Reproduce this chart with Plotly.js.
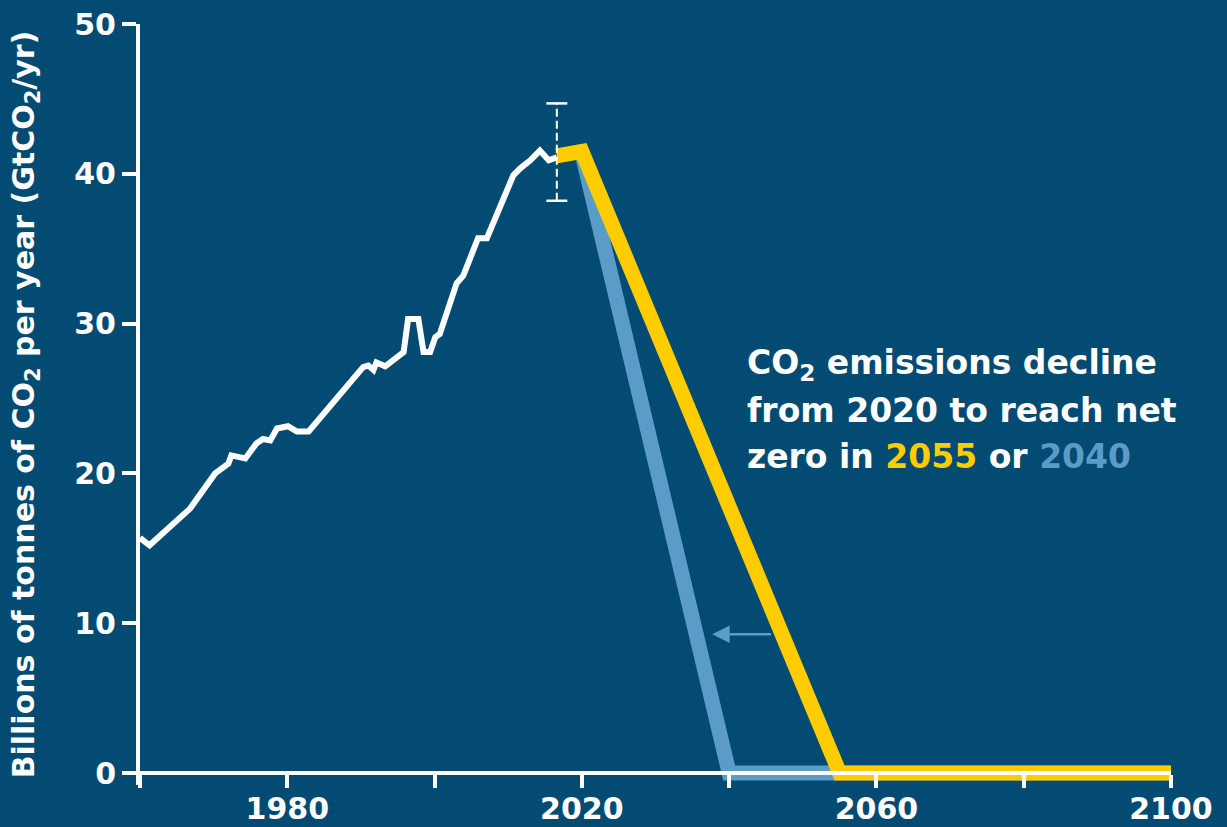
<!DOCTYPE html>
<html>
<head>
<meta charset="utf-8">
<script src="https://cdn.plot.ly/plotly-3.0.1.min.js"></script>
<style>
html,body{margin:0;padding:0;background:#034b72;}
#chart{width:1227px;height:827px;}
</style>
</head>
<body>
<div id="chart"></div>
<script>
// Historical global CO2 emissions (GtCO2/yr), vertices
const histYears = [1960, 1961.3, 1966.8, 1970.2, 1972.0, 1972.4, 1974.3, 1975.8, 1976.7, 1977.7, 1978.6, 1980.1, 1981.3, 1982.9,
  1990.3, 1991.0, 1991.7, 1992.1, 1993.3, 1995.8, 1996.4, 1997.8, 1998.5, 1999.4, 2000.1, 2000.7, 2003.0, 2003.9,
  2005.9, 2007.1, 2010.7, 2011.6, 2013.0, 2014.3, 2015.5, 2016.6];
const histValues = [15.7, 15.2, 17.65, 20.0, 20.65, 21.2, 21.0, 22.0, 22.3, 22.2, 23.0, 23.15, 22.8, 22.8,
  27.1, 27.2, 26.9, 27.4, 27.15, 28.1, 30.3, 30.3, 28.1, 28.1, 29.1, 29.3, 32.7, 33.2,
  35.7, 35.7, 39.9, 40.35, 40.9, 41.55, 40.9, 41.1];

// Pathway reaching net zero in 2055 (yellow)
const path2055Years = [2016.6, 2020, 2055, 2100];
const path2055Values = [41.2, 41.5, 0, 0];

// Pathway reaching net zero in 2040 (blue)
const path2040Years = [2020, 2040, 2100];
const path2040Values = [41.4, 0, 0];

// Uncertainty range around the latest year
const rangeYear = 2016.6;
const rangeLow = 38.2;
const rangeHigh = 44.7;

// Axis ticks
const xLabelVals = [1980, 2020, 2060, 2100];
const xLabelText = ['1980', '2020', '2060', '2100'];
const xMinorStep = 20;
const yTickVals = [0, 10, 20, 30, 40, 50];

const BG = '#034b72';
const YELLOW = '#ffcc00';
const BLUE = '#5b9bc8';
const WHITE = '#ffffff';
const FONT = 'DejaVu Sans, Verdana, sans-serif';

const traces = [
  {
    x: path2040Years, y: path2040Values, type: 'scatter', mode: 'lines',
    line: {color: BLUE, width: 15}, hoverinfo: 'skip', showlegend: false
  },
  {
    x: path2055Years, y: path2055Values, type: 'scatter', mode: 'lines',
    line: {color: YELLOW, width: 15}, hoverinfo: 'skip', showlegend: false
  },
  {
    x: histYears, y: histValues, type: 'scatter', mode: 'lines',
    line: {color: WHITE, width: 6}, hoverinfo: 'skip', showlegend: false
  },
  {
    x: [rangeYear, rangeYear], y: [rangeLow, rangeHigh], type: 'scatter', mode: 'lines',
    line: {color: WHITE, width: 2, dash: '8px,4px'}, hoverinfo: 'skip', showlegend: false
  },
  {
    x: [rangeYear, rangeYear], y: [rangeLow, rangeHigh], type: 'scatter', mode: 'markers',
    marker: {symbol: 'line-ew-open', size: 15, color: WHITE, line: {color: WHITE, width: 2.5}},
    cliponaxis: false, hoverinfo: 'skip', showlegend: false
  }
];

const yMin = -0.8, yMax = 50;

const layout = {
  width: 1227, height: 827,
  paper_bgcolor: BG, plot_bgcolor: BG,
  margin: {l: 140, r: 56, t: 24, b: 42},
  showlegend: false,
  xaxis: {
    range: [1960, 2100],
    tickmode: 'array', tickvals: xLabelVals, ticktext: xLabelText,
    showgrid: false, zeroline: false,
    showline: true, linecolor: WHITE, linewidth: 4,
    ticks: 'outside', ticklen: 13, tickwidth: 4, tickcolor: WHITE,
    ticklabelstandoff: -5,
    minor: {tick0: 1960, dtick: xMinorStep, ticks: 'outside', ticklen: 13, tickwidth: 4, tickcolor: WHITE, showgrid: false},
    tickfont: {family: FONT, size: 30, color: WHITE, weight: 'bold'},
    anchor: 'free', position: (0 - yMin) / (yMax - yMin),
    fixedrange: true
  },
  yaxis: {
    range: [yMin, yMax],
    tickvals: yTickVals,
    showgrid: false, zeroline: false,
    showline: true, linecolor: WHITE, linewidth: 4,
    ticks: 'outside', ticklen: 14, tickwidth: 4, tickcolor: WHITE,
    tickfont: {family: FONT, size: 30, color: WHITE, weight: 'bold'},
    title: {
      text: 'Billions of tonnes of CO<sub>2</sub> per year (GtCO<sub>2</sub>/yr)',
      font: {family: FONT, size: 30, color: WHITE, weight: 'bold'},
      standoff: 32
    },
    fixedrange: true
  },
  annotations: [
    {
      xref: 'x', yref: 'y', x: 2042.2, y: 27.3, xanchor: 'left', yanchor: 'middle',
      text: 'CO<sub>2</sub> emissions decline', showarrow: false,
      font: {family: FONT, size: 33, color: WHITE, weight: 'bold'}
    },
    {
      xref: 'x', yref: 'y', x: 2042.2, y: 24.2, xanchor: 'left', yanchor: 'middle',
      text: 'from 2020 to reach net', showarrow: false,
      font: {family: FONT, size: 33, color: WHITE, weight: 'bold'}
    },
    {
      xref: 'x', yref: 'y', x: 2042.2, y: 21.1, xanchor: 'left', yanchor: 'middle',
      text: 'zero in <span style="color:' + YELLOW + '">2055</span> or <span style="color:' + BLUE + '">2040</span>',
      showarrow: false,
      font: {family: FONT, size: 33, color: WHITE, weight: 'bold'}
    },
    {
      xref: 'x', yref: 'y', x: 2037.7, y: 9.27,
      axref: 'x', ayref: 'y', ax: 2045.9, ay: 9.27,
      text: '', showarrow: true, arrowhead: 2, arrowsize: 1.4, arrowwidth: 2.5, arrowcolor: BLUE
    }
  ]
};

Plotly.newPlot('chart', traces, layout, {displayModeBar: false, staticPlot: true});
</script>
</body>
</html>
